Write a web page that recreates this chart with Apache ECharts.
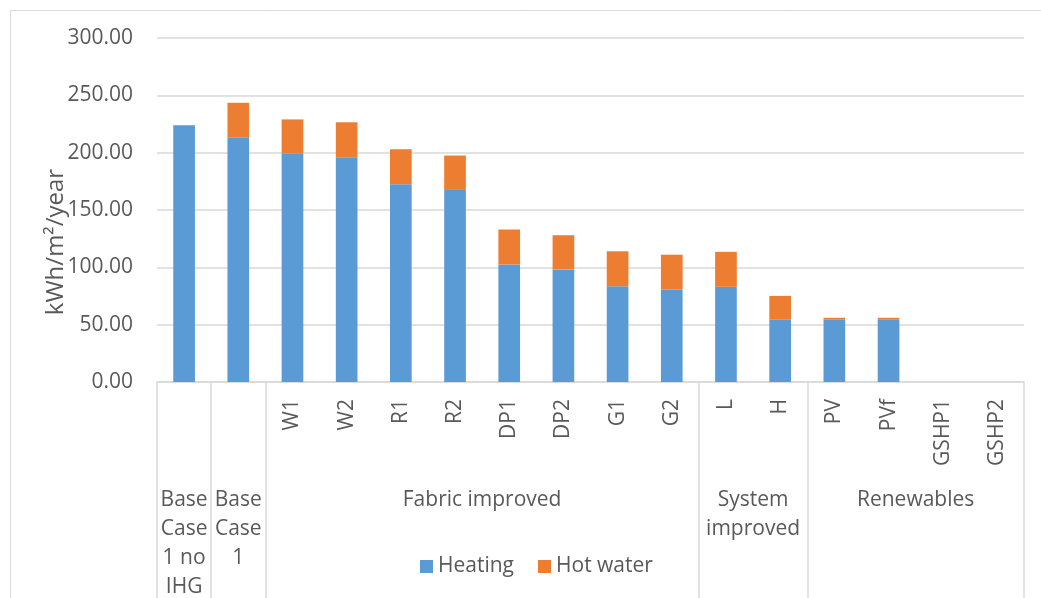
<!DOCTYPE html>
<html>
<head>
<meta charset="utf-8">
<script src="https://cdn.jsdelivr.net/npm/echarts@6/dist/echarts.min.js"></script>
<style>
html,body{margin:0;padding:0;background:#fff;}
#chart{width:1041px;height:598px;}
</style>
</head>
<body>
<div id="chart"></div>
<script>
// ---- data ----
var categories = ['', '', 'W1', 'W2', 'R1', 'R2', 'DP1', 'DP2', 'G1', 'G2', 'L', 'H', 'PV', 'PVf', 'GSHP1', 'GSHP2'];
var heating   = [224, 213, 199, 196, 172.5, 167.5, 102.5, 98, 83.5, 80.5, 83, 54.8, 54.8, 54.8, 0, 0];
var hotWater  = [0, 30.5, 30, 30.5, 30.5, 30, 30.5, 30, 30.5, 30.5, 30.5, 20.3, 1.2, 1.2, 0, 0];
var groupNames  = ['Base\nCase\n1 no\nIHG', 'Base\nCase\n1', 'Fabric improved', 'System\nimproved', 'Renewables'];
var groupStarts = [0, 1, 2, 10, 12];
var groupEnds   = [1, 2, 10, 12, 16];
var yTicks = [0, 50, 100, 150, 200, 250, 300];
var seriesNames = ['Heating', 'Hot water'];
var yAxisTitle = 'kWh/m\u00b2/year';

// ---- derived ----
var groupCenters = groupStarts.map(function (s, i) { return (s + groupEnds[i]) / 2; });
var separators = [groupStarts[0]].concat(groupEnds);

var textColor = '#595959';
var gridColor = '#d9d9d9';
var fontFamily = '"Open Sans", "Noto Sans", sans-serif';
var fs = 21;

var chart = echarts.init(document.getElementById('chart'), null, {renderer: 'canvas'});
chart.setOption({
  animation: false,
  textStyle: {fontFamily: fontFamily},
  color: ['#5b9bd5', '#ed7d31'],
  graphic: [{
    type: 'rect',
    shape: {x: 10.5, y: 10.5, width: 1200, height: 800},
    style: {fill: 'none', stroke: gridColor, lineWidth: 1},
    silent: true
  }],
  grid: {left: 157, right: 17, top: 38, bottom: 216, containLabel: false, outerBoundsMode: 'none'},
  legend: {
    data: seriesNames,
    left: 415,
    top: 551,
    icon: 'rect',
    itemWidth: 13,
    itemHeight: 13,
    itemGap: 24,
    textStyle: {fontSize: fs, color: textColor, fontFamily: fontFamily}
  },
  xAxis: [{
    type: 'category',
    data: categories,
    position: 'bottom',
    axisLine: {show: true, lineStyle: {color: gridColor, width: 1.5}},
    axisTick: {show: false},
    axisLabel: {
      rotate: 90,
      interval: 0,
      margin: 17,
      fontSize: fs,
      color: textColor,
      fontFamily: fontFamily
    },
    splitLine: {show: false}
  }, {
    type: 'value',
    min: 0,
    max: categories.length,
    position: 'bottom',
    axisLine: {show: false},
    splitLine: {show: false},
    axisTick: {
      show: true,
      customValues: separators,
      length: 216,
      lineStyle: {color: gridColor, width: 1.5}
    },
    axisLabel: {
      show: true,
      customValues: groupCenters,
      margin: 104,
      fontSize: fs,
      lineHeight: 29,
      color: textColor,
      fontFamily: fontFamily,
      formatter: function (v) {
        for (var i = 0; i < groupCenters.length; i++) {
          if (Math.abs(groupCenters[i] - v) < 1e-6) return groupNames[i];
        }
        return '';
      }
    }
  }],
  yAxis: {
    type: 'value',
    min: yTicks[0],
    max: yTicks[yTicks.length - 1],
    interval: yTicks[1] - yTicks[0],
    name: yAxisTitle,
    nameLocation: 'middle',
    nameRotate: 90,
    nameGap: 89,
    nameMoveOverlap: false,
    nameTextStyle: {fontSize: 24, color: textColor, fontFamily: fontFamily, padding: [0, 64, 0, 0]},
    axisLine: {show: false},
    axisTick: {show: false},
    axisLabel: {
      margin: 24,
      fontSize: fs,
      color: textColor,
      fontFamily: fontFamily,
      formatter: function (v) { return v.toFixed(2); }
    },
    splitLine: {show: true, lineStyle: {color: gridColor, width: 1.5}}
  },
  series: [{
    name: seriesNames[0],
    type: 'bar',
    stack: 'total',
    xAxisIndex: 0,
    barWidth: '40%',
    data: heating
  }, {
    name: seriesNames[1],
    type: 'bar',
    stack: 'total',
    xAxisIndex: 0,
    barWidth: '40%',
    data: hotWater
  }]
});
</script>
</body>
</html>
